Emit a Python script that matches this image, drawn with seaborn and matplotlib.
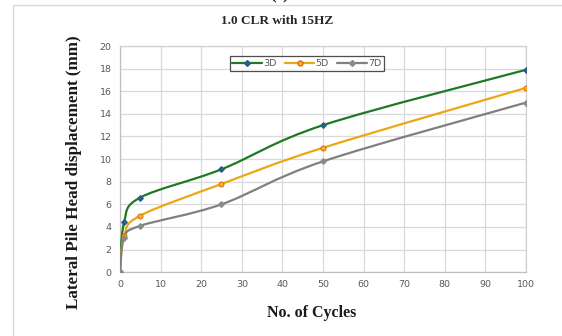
import numpy as np
import pandas as pd
import seaborn as sns
import matplotlib
matplotlib.use("Agg")
import matplotlib.pyplot as plt
from matplotlib.path import Path
from matplotlib.patches import PathPatch, Rectangle
from matplotlib.lines import Line2D

# Data
cycles = [0, 1, 5, 25, 50, 100]
disp_3d = [0, 4.4, 6.6, 9.1, 13.0, 17.9]
disp_5d = [0, 3.2, 5.0, 7.8, 11.0, 16.3]
disp_7d = [0, 3.0, 4.1, 6.0, 9.8, 15.0]
series_names = ["3D", "5D", "7D"]
x_ticks = list(range(0, 101, 10))
y_ticks = list(range(0, 21, 2))

line_colors = {"3D": "#1e7a22", "5D": "#eaa814", "7D": "#808080"}
marker_style = {
    "3D": dict(marker="D", markersize=3.0, markerfacecolor="#2a5d8c", markeredgecolor="#2a5d8c"),
    "5D": dict(marker="o", markersize=3.6, markerfacecolor="#f5b030", markeredgecolor="#e0700a"),
    "7D": dict(marker="D", markersize=3.0, markerfacecolor="#8a8a8a", markeredgecolor="#8a8a8a"),
}

sns.set_theme(style="white")
plt.rcParams["font.family"] = ["DejaVu Sans"]

fig = plt.figure(figsize=(5.62, 3.36), dpi=100)
ax = fig.add_axes([0.2135, 0.190, 0.7225, 0.673])

df = pd.DataFrame({
    "cycles": cycles * 3,
    "disp": disp_3d + disp_5d + disp_7d,
    "series": sum([[s] * len(cycles) for s in series_names], []),
})


def smooth_path(xs, ys, t=1.0 / 6.0):
    """Cubic Bezier path through the points (spreadsheet-style smoothed line)."""
    pts = np.column_stack([xs, ys]).astype(float)
    n = len(pts)
    verts = [pts[0]]
    codes = [Path.MOVETO]
    for i in range(n - 1):
        p_prev = pts[i - 1] if i > 0 else pts[i]
        p0 = pts[i]
        p1 = pts[i + 1]
        p_next = pts[i + 2] if i + 2 < n else pts[i + 1]
        c1 = p0 + (p1 - p_prev) * t
        c2 = p1 - (p_next - p0) * t
        verts += [c1, c2, p1]
        codes += [Path.CURVE4] * 3
    return Path(verts, codes)


for name in series_names:
    sub = df[df["series"] == name]
    ax.add_patch(PathPatch(smooth_path(sub["cycles"].values, sub["disp"].values),
                           fill=False, edgecolor=line_colors[name], lw=1.6,
                           capstyle="round", joinstyle="round", zorder=3))
for name in series_names:
    sub = df[df["series"] == name]
    sns.lineplot(data=sub, x="cycles", y="disp", ax=ax, linestyle="none",
                 legend=False, zorder=4, **marker_style[name])

ax.set_xlim(0, 100)
ax.set_ylim(0, 20)
ax.set_xticks(x_ticks)
ax.set_yticks(y_ticks)
ax.grid(True, color="#d9d9d9", lw=0.9)
ax.set_axisbelow(True)
for sp in ax.spines.values():
    sp.set_color("#d0d0d0")
    sp.set_linewidth(0.9)
ax.spines["left"].set_color("#bfbfbf")
ax.spines["bottom"].set_color("#bfbfbf")
ax.tick_params(axis="both", length=0, labelsize=6.8, colors="#595959", pad=6)
ax.set_xlabel("")
ax.set_ylabel("")

handles = [Line2D([0], [0], color=line_colors[n], lw=1.6, **marker_style[n]) for n in series_names]
leg = ax.legend(handles, series_names, loc="upper left", bbox_to_anchor=(0.27, 0.955),
                ncol=3, frameon=True, fancybox=False, fontsize=6.8, handlelength=3.1,
                handletextpad=0.15, columnspacing=0.9, borderpad=0.3, borderaxespad=0)
leg.get_frame().set_edgecolor("#222222")
leg.get_frame().set_linewidth(0.9)
for txt in leg.get_texts():
    txt.set_color("#595959")

serif = ["Liberation Serif", "DejaVu Serif"]
fig.text(0.493, 0.9375, "1.0 CLR with 15HZ", ha="center", va="center",
         fontsize=9.5, fontweight="bold", family=serif, color="#262626")
fig.text(0.555, 0.068, "No. of Cycles", ha="center", va="center",
         fontsize=11.5, fontweight="bold", family=serif, color="#1a1a1a")
fig.text(0.132, 0.488, "Lateral Pile Head displacement (mm)", ha="center", va="center",
         rotation=90, fontsize=12.3, fontweight="bold", family=serif, color="#1a1a1a")
fig.text(0.498, 1 - 3 / 336, "(c)", ha="center", va="bottom",
         fontsize=12, fontweight="bold", family=serif, color="#1a1a1a")

# chart-area frame
fig.patches.append(Rectangle((13 / 562, -0.2), 1.2, 0.2 + 1 - 5 / 336,
                             transform=fig.transFigure, fill=False,
                             edgecolor="#d9d9d9", lw=1.0, zorder=0))

fig.savefig("out.png", dpi=100, facecolor="white")
